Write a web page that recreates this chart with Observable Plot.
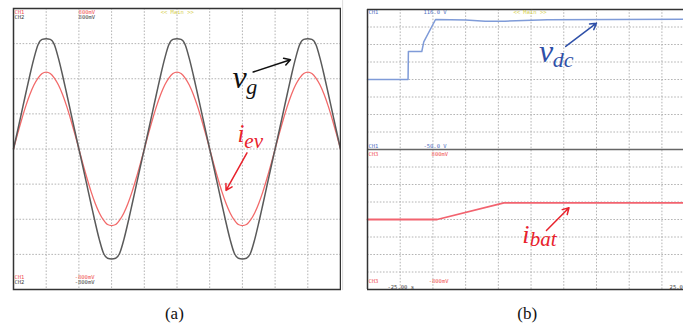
<!DOCTYPE html>
<html><head><meta charset="utf-8">
<script src="https://cdn.jsdelivr.net/npm/d3@7"></script>
<script src="https://cdn.jsdelivr.net/npm/@observablehq/plot@0.6"></script>
<style>
body{margin:0;background:#fff;}
#wrap{position:relative;width:683px;height:325px;overflow:hidden;background:#fff;}
#wrap svg{position:absolute;top:0;}
</style></head><body><div id="wrap"></div>
<script>
// ---------- Panel (a) data: time in divisions (step 0.125), values in divisions ----------
const sampleStepA = 0.125;
const vgValues = [
  0, .52, 1.05, 1.58, 2.1, 2.58, 2.97, 3.12, 3.14, 3.12, 2.97, 2.58, 2.1, 1.58, 1.05, .52, 0,
  -.52, -1.05, -1.58, -2.1, -2.58, -2.96, -3.11, -3.13, -3.11, -2.96, -2.58, -2.1, -1.58, -1.05, -.52, 0,
  .52, 1.05, 1.58, 2.1, 2.58, 2.97, 3.12, 3.14, 3.12, 2.97, 2.58, 2.1, 1.58, 1.05, .52, 0,
  -.52, -1.05, -1.58, -2.1, -2.58, -2.96, -3.11, -3.13, -3.11, -2.96, -2.58, -2.1, -1.58, -1.05, -.52, 0,
  .52, 1.05, 1.58, 2.1, 2.58, 2.97, 3.12, 3.14, 3.12, 2.97, 2.58, 2.1, 1.58, 1.05, .52, 0
];
const ievValues = [
  0, .43, .84, 1.22, 1.55, 1.82, 2.02, 2.15, 2.19, 2.15, 2.02, 1.82, 1.55, 1.22, .84, .43, 0,
  -.43, -.84, -1.22, -1.55, -1.82, -2.02, -2.15, -2.18, -2.15, -2.02, -1.82, -1.55, -1.22, -.84, -.43, 0,
  .43, .84, 1.22, 1.55, 1.82, 2.02, 2.15, 2.19, 2.15, 2.02, 1.82, 1.55, 1.22, .84, .43, 0,
  -.43, -.84, -1.22, -1.55, -1.82, -2.02, -2.15, -2.18, -2.15, -2.02, -1.82, -1.55, -1.22, -.84, -.43, 0,
  .43, .84, 1.22, 1.55, 1.82, 2.02, 2.15, 2.19, 2.15, 2.02, 1.82, 1.55, 1.22, .84, .43, 0
];
const gridXA = [1,2,3,4,5,6,7,8,9];
const gridYA = [-3,-2,-1,0,1,2,3];

// ---------- Panel (b) data ----------
const vdcTime  = [0, 1.24, 1.25, 1.66, 1.72, 2.08, 3.0, 3.6, 4.2, 5.5, 9.66];
const vdcValue = [12.0, 12.0, 13.6, 13.6, 14.15, 15.43, 15.4, 15.33, 15.33, 15.42, 15.45];
const ibatTime  = [0, 2.13, 4.17, 9.66];
const ibatValue = [4.0, 4.0, 4.95, 4.95];
const gridXB = [1,2,3,4,5,6,7,8,9];
const gridYB = [1,2,3,4,5,6,7,9,10,11,12,13,14,15];

// ---------- Labels ----------
const scopeTextA = [
  {t:0.03, v:3.9, s:"CH1", c:"#f05050"}, {t:0.03, v:3.76, s:"CH2", c:"#444"},
  {t:1.99, v:3.9, s:"800mV", c:"#f05050"}, {t:1.99, v:3.76, s:"800mV", c:"#444"},
  {t:4.5, v:3.9, s:"<< Main >>", c:"#d6d050"},
  {t:0.03, v:-3.66, s:"CH1", c:"#f05050"}, {t:0.03, v:-3.8, s:"CH2", c:"#444"},
  {t:1.87, v:-3.66, s:"-800mV", c:"#f05050"}, {t:1.87, v:-3.8, s:"-800mV", c:"#444"}
];
const scopeTextB = [
  {t:0.03, v:15.83, s:"CH1", c:"#5070c0"}, {t:1.71, v:15.83, s:"116.0 V", c:"#5070c0"},
  {t:4.46, v:15.83, s:"<< Main >>", c:"#d6d050"},
  {t:0.03, v:8.2, s:"CH1", c:"#5070c0"}, {t:1.71, v:8.2, s:"-50.0 V", c:"#5070c0"},
  {t:0.03, v:7.75, s:"CH3", c:"#f05050"}, {t:1.96, v:7.75, s:"800mV", c:"#f05050"},
  {t:0.03, v:0.46, s:"CH3", c:"#f05050"}, {t:1.87, v:0.46, s:"-800mV", c:"#f05050"},
  {t:0.61, v:0.12, s:"-25.00 s", c:"#444"}
];
const scopeTextBRight = [{t:9.64, v:0.12, s:"25.0", c:"#444"}];
const annotA = [
  {t:6.70, v:1.74, s:"v", size:32, c:"#111"},
  {t:7.12, v:1.56, s:"g", size:22, c:"#111"},
  {t:6.85, v:0.19, s:"i", size:25, c:"#e8222c"},
  {t:7.06, v:0.04, s:"ev", size:21, c:"#e8222c"}
];
const arrowsA = [
  {t1:7.33, v1:2.19, t2:8.47, v2:2.54, c:"#111"},
  {t1:7.14, v1:-0.11, t2:6.5, v2:-1.18, c:"#e8222c"}
];
const annotB = [
  {t:5.24, v:13.0, s:"v", size:32, c:"#2f50a8"},
  {t:5.66, v:12.74, s:"dc", size:22, c:"#2f50a8"},
  {t:4.73, v:2.63, s:"i", size:26, c:"#e8222c"},
  {t:4.96, v:2.46, s:"bat", size:21, c:"#e8222c"}
];
const arrowsB = [
  {t1:6.06, v1:13.89, t2:7.0, v2:15.22, c:"#2f50a8"},
  {t1:5.47, v1:3.37, t2:6.16, v2:4.67, c:"#e8222c"}
];
const captionA = [{t:4.92, v:-4.83, s:"(a)"}];
const captionB = [{t:4.88, v:-1.66, s:"(b)"}];

const tableA = vgValues.map((g, k) => ({t: k * sampleStepA, vg: g, iev: ievValues[k]}));
const tableVdc = vdcTime.map((t, k) => ({t, v: vdcValue[k]}));
const tableIbat = ibatTime.map((t, k) => ({t, v: ibatValue[k]}));

const gridStyle = {stroke:"#b4b4b4", strokeWidth:1, strokeDasharray:"1.6,1.6"};
const mono = "DejaVu Sans Mono";
const serif = "Liberation Serif";

function annotMarks(list) {
  return list.map(d => Plot.text([d], {x:"t", y:"v", text:"s", fill:"c", fontSize:d.size,
    fontStyle:"italic", fontFamily:serif, textAnchor:"start", lineAnchor:"bottom"}));
}

const plotA = Plot.plot({
  width: 341, height: 325,
  marginLeft: 13, marginRight: 1, marginTop: 8, marginBottom: 36,
  x: {domain: [0, 10], axis: null},
  y: {domain: [-4, 4], axis: null},
  marks: [
    Plot.ruleX(gridXA, {...gridStyle}),
    Plot.ruleY(gridYA, {...gridStyle}),
    Plot.line(tableA, {x:"t", y:"iev", stroke:"#f26a6a", strokeWidth:1.3, curve:"monotone-x"}),
    Plot.line(tableA, {x:"t", y:"vg", stroke:"#5a5a5a", strokeWidth:1.5, curve:"monotone-x"}),
    Plot.frame({stroke:"#333", strokeWidth:1.5}),
    Plot.text(scopeTextA, {x:"t", y:"v", text:"s", fill:"c", fontSize:5.5, fontFamily:mono, textAnchor:"start"}),
    ...annotMarks(annotA),
    Plot.arrow(arrowsA, {x1:"t1", y1:"v1", x2:"t2", y2:"v2", stroke:"c", strokeWidth:1.5, headLength:7}),
    Plot.text(captionA, {x:"t", y:"v", text:"s", fontSize:17, fontFamily:serif, fill:"#111", lineAnchor:"bottom"})
  ]
});
plotA.style.left = "0px";

const plotB = Plot.plot({
  width: 342, height: 325,
  marginLeft: 26, marginRight: 0, marginTop: 9, marginBottom: 36,
  x: {domain: [0, 9.66], axis: null},
  y: {domain: [0, 16], axis: null},
  marks: [
    Plot.ruleX([-0.76], {y1: -0.06, y2: 16.51, stroke:"#dcdcdc", strokeWidth:1}),
    Plot.ruleX(gridXB, {...gridStyle}),
    Plot.ruleY(gridYB, {...gridStyle}),
    Plot.ruleY([8], {stroke:"#666", strokeWidth:1.5}),
    Plot.line(tableIbat, {x:"t", y:"v", stroke:"#f2636f", strokeWidth:1.8}),
    Plot.line(tableVdc, {x:"t", y:"v", stroke:"#7f9bd8", strokeWidth:1.5}),
    Plot.ruleY([0, 16], {stroke:"#333", strokeWidth:1.5}),
    Plot.ruleX([0], {y1: 0, y2: 16, stroke:"#333", strokeWidth:1.5}),
    Plot.text(scopeTextB, {x:"t", y:"v", text:"s", fill:"c", fontSize:5.5, fontFamily:mono, textAnchor:"start"}),
    Plot.text(scopeTextBRight, {x:"t", y:"v", text:"s", fill:"c", fontSize:5.5, fontFamily:mono, textAnchor:"end"}),
    ...annotMarks(annotB),
    Plot.arrow(arrowsB, {x1:"t1", y1:"v1", x2:"t2", y2:"v2", stroke:"c", strokeWidth:1.5, headLength:7}),
    Plot.text(captionB, {x:"t", y:"v", text:"s", fontSize:17, fontFamily:serif, fill:"#111", lineAnchor:"bottom"})
  ]
});
plotB.style.left = "341px";

const wrap = document.getElementById("wrap");
wrap.appendChild(plotA);
wrap.appendChild(plotB);
</script>
</body></html>
